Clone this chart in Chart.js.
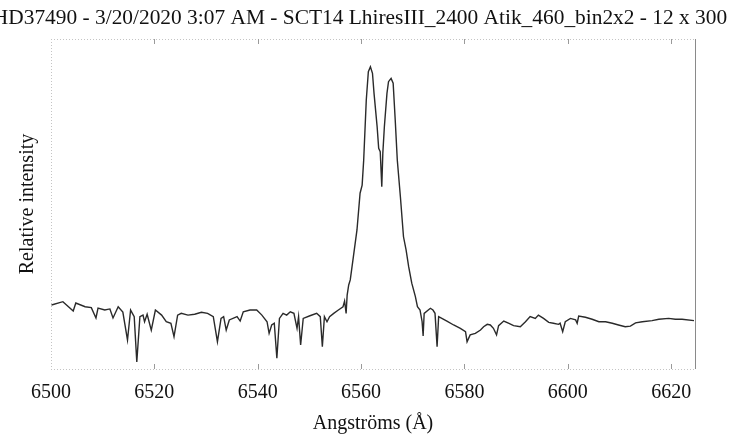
<!DOCTYPE html>
<html>
<head>
<meta charset="utf-8">
<script src="https://cdn.jsdelivr.net/npm/chart.js@4.4.1/dist/chart.umd.min.js"></script>
<style>
  html, body { margin: 0; padding: 0; background: #fff; }
  #wrap { width: 741px; height: 438px; position: relative; }
</style>
</head>
<body>
<div id="wrap"><canvas id="chart"></canvas></div>
<script>
const chartTitle = 'HD37490 - 3/20/2020 3:07 AM - SCT14 LhiresIII_2400 Atik_460_bin2x2 - 12 x 300';
const xLabel = 'Angströms (Å)';
const yLabel = 'Relative intensity';
const xTicks = [6500, 6520, 6540, 6560, 6580, 6600, 6620];

// wavelength (Å)
const wavelength = [
  6500.1, 6502.3, 6504.3, 6504.8, 6506.6, 6507.8, 6508.7, 6509.1, 6510.4, 6511.4,
  6512.0, 6513.0, 6513.9, 6514.8, 6515.4, 6516.1, 6516.6, 6517.2, 6517.8, 6518.1,
  6518.6, 6519.4, 6520.2, 6521.4, 6522.3, 6523.2, 6523.8, 6524.5, 6525.2, 6526.5,
  6527.8, 6529.1, 6530.3, 6531.4, 6532.2, 6532.9, 6533.4, 6533.9, 6534.5, 6536.0,
  6536.6, 6537.2, 6538.5, 6539.8, 6540.8, 6541.8, 6542.2, 6542.7, 6543.2, 6543.7,
  6544.2, 6544.9, 6545.6, 6546.3, 6547.0, 6547.6, 6547.9, 6548.3, 6548.8, 6550.1,
  6551.4, 6552.1, 6552.5, 6552.9, 6553.4, 6553.9, 6554.7, 6555.6, 6556.5, 6556.8,
  6557.1, 6557.3, 6557.6, 6557.9, 6558.5, 6559.2, 6559.8, 6560.2, 6560.5, 6561.0,
  6561.4, 6561.8, 6562.2, 6562.5, 6563.1, 6563.4, 6563.7, 6564.0, 6564.2, 6564.5,
  6565.0, 6565.3, 6565.8, 6566.2, 6566.6, 6567.0, 6567.6, 6568.2, 6568.7, 6569.2,
  6569.8, 6570.5, 6570.9, 6571.4, 6571.8, 6572.0, 6572.2, 6573.4, 6573.9, 6574.3,
  6574.7, 6575.0, 6576.6, 6577.9, 6579.2, 6580.2, 6580.5, 6581.1, 6582.1, 6583.1,
  6583.7, 6584.4, 6585.0, 6585.6, 6586.2, 6586.6, 6587.6, 6588.5, 6589.5, 6590.8,
  6591.8, 6592.7, 6593.7, 6594.3, 6595.3, 6596.3, 6597.2, 6598.2, 6598.5, 6599.0,
  6599.5, 6600.5, 6601.5, 6601.8, 6602.1, 6603.4, 6604.7, 6606.0, 6607.3, 6608.6,
  6609.8, 6611.1, 6612.1, 6613.1, 6614.4, 6616.3, 6617.6, 6619.5, 6620.8, 6622.1,
  6624.4
];

// relative intensity (continuum ~1)
const intensity = [
  0.991, 1.006, 0.964, 1.000, 0.983, 0.979, 0.932, 0.977, 0.968, 0.973,
  0.932, 0.983, 0.959, 0.832, 0.968, 0.938, 0.732, 0.938, 0.945, 0.915,
  0.949, 0.877, 0.968, 0.945, 0.915, 0.908, 0.847, 0.945, 0.953, 0.945,
  0.949, 0.958, 0.953, 0.938, 0.824, 0.930, 0.938, 0.877, 0.923, 0.938,
  0.918, 0.960, 0.968, 0.968, 0.945, 0.915, 0.862, 0.900, 0.908, 0.749,
  0.930, 0.953, 0.945, 0.960, 0.953, 0.885, 0.938, 0.809, 0.930, 0.942,
  0.953, 0.938, 0.801, 0.938, 0.915, 0.938, 0.953, 0.968, 0.983, 1.009,
  0.953, 1.036, 1.082, 1.105, 1.210, 1.332, 1.499, 1.536, 1.650, 1.923,
  2.051, 2.074, 2.044, 1.953, 1.801, 1.703, 1.688, 1.529, 1.680, 1.801,
  1.953, 2.006, 2.021, 1.999, 1.832, 1.650, 1.483, 1.301, 1.241, 1.165,
  1.090, 1.029, 0.983, 0.968, 0.915, 0.850, 0.953, 0.976, 0.968, 0.953,
  0.801, 0.938, 0.918, 0.900, 0.885, 0.870, 0.824, 0.855, 0.862, 0.877,
  0.892, 0.903, 0.900, 0.885, 0.855, 0.897, 0.918, 0.908, 0.897, 0.892,
  0.915, 0.938, 0.930, 0.945, 0.930, 0.912, 0.908, 0.903, 0.908, 0.870,
  0.915, 0.930, 0.923, 0.908, 0.941, 0.935, 0.926, 0.915, 0.915, 0.908,
  0.900, 0.892, 0.895, 0.910, 0.915, 0.920, 0.926, 0.930, 0.926, 0.926,
  0.920
];

const serif = '"Liberation Serif", "Times New Roman", serif';

// frame: dotted top/left/bottom, solid right, small inward ticks
const framePlugin = {
  id: 'frame',
  afterDraw(chart) {
    const { ctx, chartArea: a, scales } = chart;
    ctx.save();
    ctx.strokeStyle = '#c4c4c4';
    ctx.lineWidth = 1;
    ctx.setLineDash([1, 2]);
    ctx.beginPath();
    ctx.moveTo(a.left, a.bottom + 0.5); ctx.lineTo(a.right, a.bottom + 0.5);
    ctx.moveTo(a.left, a.top + 0.5); ctx.lineTo(a.right, a.top + 0.5);
    ctx.moveTo(a.left + 0.5, a.top); ctx.lineTo(a.left + 0.5, a.bottom);
    ctx.stroke();
    ctx.setLineDash([]);
    ctx.strokeStyle = '#8a8a8a';
    ctx.beginPath();
    ctx.moveTo(a.right + 0.5, a.top); ctx.lineTo(a.right + 0.5, a.bottom);
    ctx.stroke();
    ctx.strokeStyle = '#9a9a9a';
    ctx.beginPath();
    xTicks.slice(1).forEach((t) => {
      const x = Math.round(scales.x.getPixelForValue(t)) + 0.5;
      ctx.moveTo(x, a.top); ctx.lineTo(x, a.top + 5);
      ctx.moveTo(x, a.bottom); ctx.lineTo(x, a.bottom - 5);
    });
    ctx.stroke();
    // title, wider than the window so it runs off the left edge
    ctx.fillStyle = '#111';
    ctx.font = '21.4px ' + serif;
    ctx.textAlign = 'center';
    ctx.textBaseline = 'middle';
    ctx.fillText(chartTitle, 360, 18);
    ctx.restore();
  }
};

new Chart(document.getElementById('chart'), {
  type: 'line',
  data: {
    datasets: [{
      data: wavelength.map((w, i) => ({ x: w, y: intensity[i] })),
      borderColor: '#2a2a2a',
      borderWidth: 1.4,
      pointRadius: 0,
      tension: 0,
      fill: false
    }]
  },
  options: {
    responsive: true,
    maintainAspectRatio: false,
    animation: false,
    layout: { padding: { top: 39, right: 46, left: 0, bottom: 0 } },
    plugins: { legend: { display: false }, tooltip: { enabled: false } },
    scales: {
      x: {
        type: 'linear',
        min: 6500,
        max: 6624.6,
        afterBuildTicks: (s) => { s.ticks = xTicks.map((v) => ({ value: v })); },
        afterFit: (s) => { s.height = 69; },
        grid: { display: false },
        border: { display: false },
        ticks: {
          color: '#111', padding: 4, maxRotation: 0,
          font: { family: serif, size: 20 },
          callback: (v) => String(v)
        },
        title: { display: true, text: xLabel, color: '#111', padding: { top: 0, bottom: 2 }, font: { family: serif, size: 20 } }
      },
      y: {
        min: 0.7,
        max: 2.2,
        afterFit: (s) => { s.width = 51; },
        grid: { display: false },
        border: { display: false },
        ticks: { display: false },
        title: { display: true, text: yLabel, color: '#111', padding: { top: 16, bottom: 0 }, font: { family: serif, size: 20 } }
      }
    }
  },
  plugins: [framePlugin]
});
</script>
</body>
</html>
